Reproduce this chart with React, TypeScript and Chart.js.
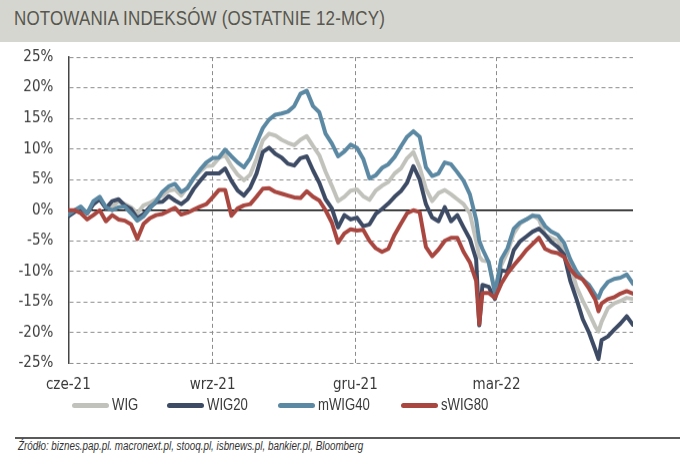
import { useEffect, useRef } from 'react';
import { Chart, registerables } from 'chart.js';

Chart.register(...registerables);

// x positions: days counted from 1 June 2021
const days = [
  0, 4, 8, 12, 16, 20, 24, 28, 32, 36, 40, 44, 48, 52, 56,
  60, 64, 68, 72, 76, 80, 84, 88, 92, 96, 100, 104, 108, 112, 116,
  120, 124, 128, 132, 136, 140, 144, 148, 152, 156, 160, 164, 168, 172, 176,
  180, 184, 188, 192, 196, 200, 204, 208, 212, 216, 220, 224, 228, 232, 236,
  240, 244, 248, 252, 256, 260,
  262,
  264, 268, 272, 276, 280, 284, 288, 292, 296, 300, 304, 308, 312, 316, 320, 324, 328, 332, 336,
  338,
  340, 344, 348, 352, 356, 360,
];

const wig = [
  -0.7, -0.2, 0.3, -0.5, 1.0, 1.8, 0.5, 0.5, 1.5, 1.0, 0.5, -0.5, 0.8, 1.2, 1.8,
  2.4, 3.2, 3.4, 2.4, 3.8, 5.2, 6.3, 7.2, 7.3, 8.5, 9.0, 7.2, 5.8, 4.9, 5.8,
  8.4, 11.4, 12.5, 12.2, 11.5, 11.0, 10.6, 11.5, 12.1, 10.5, 9.0, 6.3, 4.0, 1.5, 2.2,
  3.2, 3.4, 2.3, 1.7, 3.2, 4.0, 4.6, 6.0, 6.8, 8.5, 9.5, 7.0, 3.5, 1.5, 2.8,
  3.3, 2.6, 1.8, 1.0, -0.5, -5.0,
  -7.5,
  -8.2, -8.4, -13.2, -9.0, -6.8, -3.8, -2.2, -1.5, -0.8, -1.5, -4.0, -4.5, -5.0, -6.5, -9.0, -12.5, -14.8, -16.8, -19.0,
  -19.8,
  -18.2, -16.0, -15.2, -14.8, -14.3, -14.5,
];

const wig20 = [
  -1.0, -0.3, 0.3, -0.5, 1.0, 1.8, 0.3, 1.5, 1.8, 0.8, 0.2, -1.3, -0.6, 0.5, 1.3,
  1.4, 2.3, 1.6, 1.0, 1.8, 3.5, 4.8, 6.0, 6.0, 6.0, 6.8, 4.8, 3.2, 2.4, 3.7,
  6.0, 9.5, 10.2, 9.2, 8.6, 7.6, 7.3, 8.5, 8.8, 6.5, 4.5, 1.8, 0.3, -2.8, -0.8,
  -1.5, -1.2, -2.6, -2.3, -0.6, 0.2, 1.1, 2.2, 3.1, 4.5, 7.2, 5.0, 1.0, -1.2, -1.8,
  0.5, -1.8, -0.8, -2.8, -4.7, -8.0,
  -18.8,
  -12.2, -12.5, -14.5, -9.8, -10.0, -6.5, -5.1, -4.3, -3.5, -3.0, -4.0, -5.2, -6.0, -7.2, -11.5, -14.5, -17.8, -20.0, -22.8,
  -24.3,
  -21.2, -20.6, -19.5, -18.5, -17.3, -18.7,
];

const mwig40 = [
  -0.7, 0.0, 0.6, -0.5, 1.5, 2.2, 0.5, 0.0, 0.5, 0.6, -0.5, -1.7, -1.0, 0.3, 1.5,
  3.0, 3.9, 4.3, 3.0, 3.6, 5.3, 6.6, 7.8, 8.5, 8.6, 9.9, 8.8, 7.8, 7.0, 8.5,
  11.0, 13.4, 14.8, 15.6, 15.8, 16.1, 17.0, 19.0, 19.5, 17.0, 16.0, 12.5, 10.9, 8.8, 9.6,
  10.7, 10.2, 8.4, 5.2, 5.7, 6.9, 7.5, 8.7, 10.4, 12.0, 12.9, 12.0, 7.0, 5.6, 6.0,
  7.8, 7.5, 6.2, 4.8, 2.6, -1.5,
  -5.0,
  -6.3, -8.5, -13.5, -8.0, -6.2, -3.0, -2.0, -1.5, -0.9, -1.0, -2.6, -3.5, -4.0, -5.3, -8.0, -10.0, -11.3, -12.2, -13.8,
  -14.3,
  -13.0, -11.7, -11.2, -11.0, -10.5, -12.0,
];

const swig80 = [
  0.0, 0.0, -0.5, -1.5, -0.8, 0.0, -1.8, -0.8, -1.5, -1.7, -2.3, -4.7, -2.2, -1.3, -0.8,
  -0.6, -0.1, 0.4, -0.7, -0.4, 0.1, 0.6, 1.0, 2.1, 3.3, 3.3, -0.9, 0.3, 0.8, 1.0,
  2.2, 3.5, 3.6, 3.0, 2.7, 2.4, 2.1, 2.0, 3.1, 2.2, 1.6, 0.0, -2.0, -5.3, -3.8,
  -3.1, -3.3, -3.2, -5.0, -6.2, -6.8, -6.3, -4.0, -2.2, -0.5, 0.0, -0.3, -6.0, -7.5, -6.4,
  -5.0, -4.5, -4.5, -6.8, -8.5, -11.5,
  -18.6,
  -13.5, -13.5, -14.3, -12.0, -10.3, -9.0, -7.8, -6.5, -5.5, -4.5, -6.3, -6.8, -7.0, -7.6, -9.6, -10.8, -11.3, -12.8, -14.6,
  -16.5,
  -15.2, -14.5, -14.2, -13.6, -13.2, -13.6,
];

const tickDays = [0, 92, 183, 273];
const tickLabels = ['cze-21', 'wrz-21', 'gru-21', 'mar-22'];
const seriesNames = ['WIG', 'WIG20', 'mWIG40', 'sWIG80'];
const seriesColors = ['#c2c2bc', '#3d4b65', '#5b88a2', '#a8463f'];

// layout (pixels) for the HTML legend items
const legendLeft = [72, 167, 278, 401];

const TICK_FONT = "'DejaVu Sans Condensed', 'DejaVu Sans', sans-serif";
const HTML_FONT = "'Liberation Sans', Arial, sans-serif";
const GRID = '#8c8c8c';
const NARROW_SCALE = 'scaleX(0.82)';

export default function App() {
  const canvasRef = useRef<HTMLCanvasElement | null>(null);

  useEffect(() => {
    document.body.style.margin = '0';
    document.body.style.background = '#ffffff';
    const canvas = canvasRef.current;
    if (!canvas) return;
    const series = [wig, wig20, mwig40, swig80];
    const chart = new Chart(canvas, {
      type: 'line',
      data: {
        datasets: series.map((vals, i) => ({
          label: seriesNames[i],
          data: days.map((d, j) => ({ x: d, y: vals[j] })),
          borderColor: seriesColors[i],
          backgroundColor: seriesColors[i],
          borderWidth: 4,
          pointRadius: 0,
          pointHoverRadius: 0,
          tension: 0,
          fill: false,
          borderJoinStyle: 'round',
          borderCapStyle: 'round',
          order: 3 - i,
        })),
      },
      options: {
        animation: false,
        responsive: true,
        maintainAspectRatio: false,
        layout: { padding: { top: 0, right: 47, bottom: 0, left: 0 } },
        plugins: {
          legend: { display: false },
          tooltip: { enabled: false },
          title: { display: false },
        },
        scales: {
          x: {
            type: 'linear',
            min: 0,
            max: 360,
            afterBuildTicks: (scale: any) => {
              scale.ticks = tickDays.map((v) => ({ value: v }));
            },
            ticks: {
              autoSkip: false,
              maxRotation: 0,
              padding: 13,
              color: '#3a3a3a',
              font: { family: TICK_FONT, size: 15 },
              callback: (v: any) => {
                const k = tickDays.indexOf(Number(v));
                return k >= 0 ? tickLabels[k] : '';
              },
            },
            grid: {
              drawTicks: false,
              lineWidth: 1,
              color: (ctx: any) => (ctx.tick && ctx.tick.value === 0 ? 'rgba(0,0,0,0)' : GRID),
            },
            border: { display: false, dash: [4, 3] },
          },
          y: {
            min: -25,
            max: 25,
            afterFit: (scale: any) => {
              scale.width = 68.3;
            },
            ticks: {
              stepSize: 5,
              padding: 15,
              color: '#3a3a3a',
              font: { family: TICK_FONT, size: 15 },
              callback: (v: any) => `${v}%`,
            },
            grid: {
              drawTicks: false,
              color: (ctx: any) => (ctx.tick && ctx.tick.value === 0 ? '#000000' : GRID),
              lineWidth: (ctx: any) => (ctx.tick && ctx.tick.value === 0 ? 1.5 : 1),
            },
            border: {
              display: true,
              color: '#444444',
              width: 1.5,
              dash: (ctx: any) => (ctx.tick && ctx.tick.value === 0 ? [] : [4, 3]),
            },
          },
        },
      },
    } as any);
    return () => chart.destroy();
  }, []);

  return (
    <div style={{ position: 'relative', width: 680, height: 466, background: '#ffffff', overflow: 'hidden' }}>
      <div style={{ position: 'absolute', left: 0, top: 0, width: 680, height: 42, background: '#d6d6d0' }} />
      <div
        style={{
          position: 'absolute',
          left: 14,
          top: 8,
          fontFamily: HTML_FONT,
          fontSize: 20.7,
          lineHeight: 1,
          letterSpacing: 0.2,
          color: '#57574f',
          whiteSpace: 'nowrap',
          transform: NARROW_SCALE,
          transformOrigin: 'left top',
        }}
      >
        NOTOWANIA INDEKSÓW (OSTATNIE 12-MCY)
      </div>
      <div style={{ position: 'absolute', left: 0, top: 33, width: 680, height: 373.5 }}>
        <canvas ref={canvasRef} />
      </div>
      {seriesNames.map((name, i) => (
        <div key={name} style={{ position: 'absolute', left: legendLeft[i], top: 395, height: 20 }}>
          <span
            style={{
              position: 'absolute',
              left: 0,
              top: 7.5,
              width: 37,
              height: 5,
              borderRadius: 2.5,
              background: seriesColors[i],
            }}
          />
          <span
            style={{
              position: 'absolute',
              left: 40,
              top: 0,
              fontFamily: HTML_FONT,
              fontSize: 16,
              lineHeight: '20px',
              color: '#3a3a3a',
              whiteSpace: 'nowrap',
              transform: NARROW_SCALE,
              transformOrigin: 'left center',
            }}
          >
            {name}
          </span>
        </div>
      ))}
      <div style={{ position: 'absolute', left: 15, top: 437, width: 665, height: 2, background: '#5a5a5a' }} />
      <div
        style={{
          position: 'absolute',
          left: 18,
          top: 440,
          fontFamily: HTML_FONT,
          fontSize: 12,
          lineHeight: 1,
          fontStyle: 'italic',
          color: '#333333',
          whiteSpace: 'nowrap',
          transform: NARROW_SCALE,
          transformOrigin: 'left top',
        }}
      >
        Źródło: biznes.pap.pl. macronext.pl, stooq.pl, isbnews.pl, bankier.pl, Bloomberg
      </div>
    </div>
  );
}
